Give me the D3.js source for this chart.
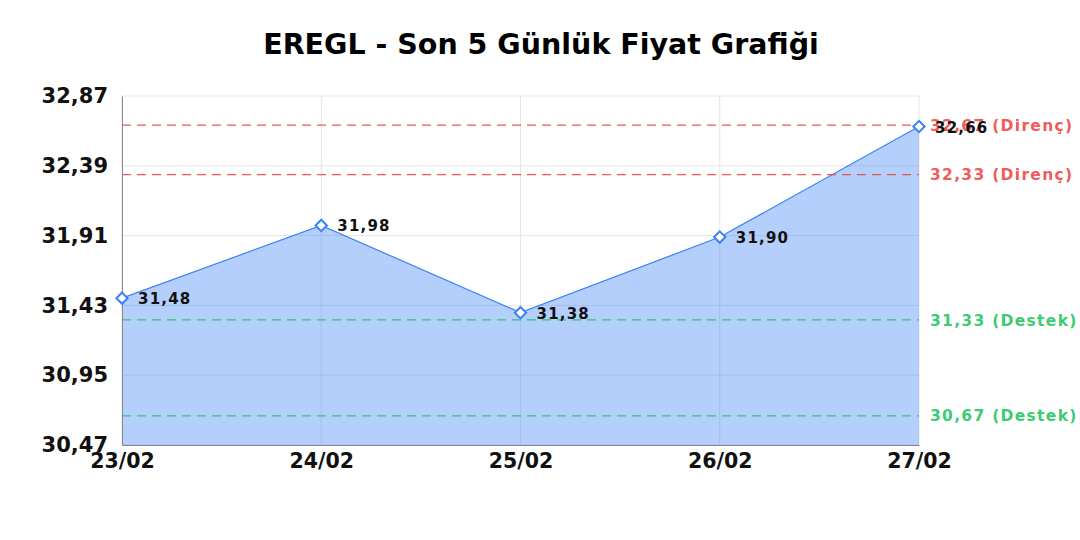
<!DOCTYPE html>
<html>
<head>
<meta charset="utf-8">
<script src="https://cdn.jsdelivr.net/npm/d3@7"></script>
<style>
  body { margin: 0; background: #fff; }
  svg text { font-family: "DejaVu Sans", sans-serif; font-weight: bold; }
</style>
</head>
<body>
<svg id="chart" width="1080" height="540"></svg>
<script>
var dates = ['23/02', '24/02', '25/02', '26/02', '27/02'];
var prices = [31.48, 31.98, 31.38, 31.90, 32.66];
var yTicks = [30.47, 30.95, 31.43, 31.91, 32.39, 32.87];
var resistance = [32.67, 32.33];
var support = [31.33, 30.67];

var title = 'EREGL - Son 5 Günlük Fiyat Grafiği';
var fmt = function(v) { return v.toFixed(2).replace('.', ','); };

var chart = { left: 122, right: 919, top: 96, bottom: 445 };

var svg = d3.select('#chart');

var x = d3.scalePoint().domain(dates).range([chart.left, chart.right]);
var y = d3.scaleLinear().domain([30.47, 32.87]).range([chart.bottom, chart.top]);

// title
svg.append('text')
	.attr('x', 541).attr('y', 54)
	.attr('text-anchor', 'middle')
	.style('font-size', '28.5px')
	.text(title);

// grid
svg.append('g').selectAll('line').data(yTicks).join('line')
	.attr('x1', chart.left).attr('x2', chart.right)
	.attr('y1', function(d) { return y(d); }).attr('y2', function(d) { return y(d); })
	.attr('stroke', '#e5e5e5').attr('stroke-width', 1);
svg.append('g').selectAll('line').data(dates).join('line')
	.attr('x1', function(d) { return x(d); }).attr('x2', function(d) { return x(d); })
	.attr('y1', chart.top).attr('y2', chart.bottom)
	.attr('stroke', '#e5e5e5').attr('stroke-width', 1);

// area + line
var area = d3.area()
	.x(function(d, i) { return x(dates[i]); })
	.y0(chart.bottom)
	.y1(function(d) { return y(d); });
svg.append('path').datum(prices)
	.attr('d', area)
	.attr('fill', 'rgba(59,130,246,0.38)');

var line = d3.line()
	.x(function(d, i) { return x(dates[i]); })
	.y(function(d) { return y(d); });
svg.append('path').datum(prices)
	.attr('d', line)
	.attr('fill', 'none')
	.attr('stroke', '#3b82f6')
	.attr('stroke-width', 1.2);

// level lines
function levels(vals, color, name) {
	var g = svg.append('g');
	g.selectAll('line').data(vals).join('line')
		.attr('x1', chart.left).attr('x2', chart.right)
		.attr('y1', function(d) { return y(d); }).attr('y2', function(d) { return y(d); })
		.attr('stroke', color).attr('stroke-width', 1.2)
		.attr('stroke-dasharray', '9,6');
	g.selectAll('text').data(vals).join('text')
		.attr('x', 930)
		.attr('y', function(d) { return y(d); })
		.attr('dy', '0.36em')
		.attr('fill', color)
		.style('font-size', '15.5px')
		.style('letter-spacing', '1.3px')
		.text(function(d) { return fmt(d) + ' (' + name + ')'; });
}
levels(resistance, 'rgba(239,68,68,0.9)', 'Direnç');
levels(support, 'rgba(34,197,94,0.9)', 'Destek');

// axes
var yAxis = d3.axisLeft(y).tickValues(yTicks).tickFormat(fmt).tickSize(0).tickPadding(14);
var gy = svg.append('g').attr('transform', 'translate(' + chart.left + ',0)').call(yAxis);
gy.select('.domain').attr('stroke', '#888');
gy.selectAll('text').style('font-size', '21px').attr('fill', '#111');

var xAxis = d3.axisBottom(x).tickSize(0).tickPadding(8);
var gx = svg.append('g').attr('transform', 'translate(0,' + chart.bottom + ')').call(xAxis);
gx.select('.domain').attr('stroke', '#888');
gx.selectAll('text').style('font-size', '20.5px').attr('fill', '#111');

// markers
svg.append('g').selectAll('rect').data(prices).join('rect')
	.attr('x', -4).attr('y', -4).attr('width', 8).attr('height', 8)
	.attr('transform', function(d, i) { return 'translate(' + x(dates[i]) + ',' + y(d) + ') rotate(45)'; })
	.attr('fill', '#fff')
	.attr('stroke', '#3b82f6')
	.attr('stroke-width', 2);

// value labels
svg.append('g').selectAll('text').data(prices).join('text')
	.attr('x', function(d, i) { return x(dates[i]) + 16; })
	.attr('y', function(d) { return y(d); })
	.attr('dy', '0.4em')
	.attr('fill', '#111')
	.style('font-size', '15px')
	.style('letter-spacing', '1.2px')
	.text(fmt);
</script>
</body>
</html>
